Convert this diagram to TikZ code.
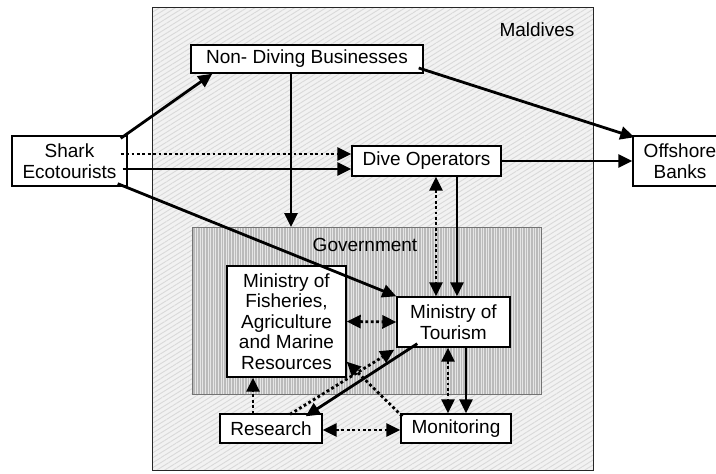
\documentclass[tikz,border=0pt]{standalone}
\usepackage{fontspec}
\setmainfont{Liberation Sans}
\usetikzlibrary{arrows.meta,calc,patterns.meta}
\begin{document}
\begin{tikzpicture}[x=1pt,y=-1pt,
  font=\fontsize{19}{20.5}\selectfont,
  box/.style={draw=black,line width=1.4pt,fill=white,inner sep=0pt,align=center},
  arr/.style={line width=2.8pt,-{Triangle[length=14pt,width=13pt]}},
  darr/.style={line width=2.8pt,dash pattern=on 2.8pt off 2.6pt,-{Triangle[length=14pt,width=13pt]}},
  ddarr/.style={line width=2.8pt,dash pattern=on 2.8pt off 2.6pt,{Triangle[length=14pt,width=13pt]}-{Triangle[length=14pt,width=13pt]}}]
\useasboundingbox (0,0) rectangle (716,474);
\begin{scope}
\clip (0,0) rectangle (716,474);
% Maldives region
\node[draw=black!85,line width=1.4pt,inner sep=0pt,anchor=north west,
  minimum width=441pt,minimum height=463pt,
  preaction={fill=black!5},
  pattern={Lines[angle=32,distance=4.2pt,line width=0.9pt]},pattern color=black!15]
  (mal) at (152,7) {};
\node (mallbl) at (537,30) {Maldives};
% Government region
\node[draw=black!55,line width=1.5pt,inner sep=0pt,anchor=north west,
  minimum width=349pt,minimum height=167pt,
  preaction={fill=black!27},
  pattern={Lines[angle=90,distance=2.6pt,line width=1pt]},pattern color=black!10]
  (gov) at (192,227) {};
\node (govlbl) at (365,245) {Government};
% boxes
\node[box,minimum width=232pt,minimum height=28pt] (ndb) at (307,59) {Non- Diving Businesses};
\node[box,minimum width=115pt,minimum height=50pt] (shark) at (69.5,161) {Shark\\Ecotourists};
\node[box,minimum width=149pt,minimum height=30pt] (dive) at (426.5,161) {Dive Operators};
\node[box,minimum width=94pt,minimum height=50pt] (ofs) at (680,161) {Offshore\\Banks};
\node[box,minimum width=119pt,minimum height=111pt] (fis) at (286.5,321.5) {Ministry of\\Fisheries,\\Agriculture\\and Marine\\Resources};
\node[box,minimum width=113pt,minimum height=50pt] (mot) at (453.5,322) {Ministry of\\Tourism};
\node[box,minimum width=102pt,minimum height=29pt] (res) at (271,428.5) {Research};
\node[box,minimum width=110pt,minimum height=29pt] (mon) at (456,428.5) {Monitoring};
% helper coordinates
\coordinate (ndbd) at ($(ndb.south)+(-16,0)$);
\coordinate (dived) at ($(dive.south)+(9.5,0)$);
\coordinate (dives) at ($(dive.south)+(30.5,0)$);
\coordinate (resf) at ($(res.north)+(-18,0)$);
\coordinate (motd) at ($(mot.south)+(-5.5,0)$);
\coordinate (mots) at ($(mot.south)+(12.5,0)$);
% connectors
\draw[arr] ($(shark.north east)+(-7,3)$) -- ($(ndb.south west)+(22,0)$);
\draw[darr] ($(shark.east)+(-7,-7)$) -- ($(dive.west)+(0,-7)$);
\draw[arr] ($(shark.east)+(-5,8)$) -- ($(dive.west)+(0,8)$);
\draw[arr] ($(shark.south east)+(-10,-3)$) -- (mot.north west);
\draw[arr] (ndbd) -- (ndbd |- gov.north);
\draw[arr] ($(ndb.east)+(-5,9)$) -- ($(ofs.north west)+(2,2)$);
\draw[arr] (dive.east) -- (ofs.west);
\draw[ddarr] (dived) -- (dived |- mot.north);
\draw[arr] (dives) -- (dives |- mot.north);
\draw[ddarr] (fis.east) -- (mot.west);
\draw[darr] (resf) -- (resf |- fis.south);
\draw[ddarr] ($(res.east)+(0,1.5)$) -- ($(mon.west)+(0,1.5)$);
\draw[ddarr] (motd) -- (motd |- mon.north);
\draw[arr] (mots) -- (mots |- mon.north);
\draw[arr] ($(mot.south west)+(21,-4)$) -- ($(res.north east)+(-17,3)$);
\draw[darr] ($(res.north)+(19,1)$) -- ($(mot.south west)+(-2,2)$);
\draw[darr] ($(mon.north west)+(2,3)$) -- ($(fis.south east)+(0,-16)$);
\end{scope}
\end{tikzpicture}
\end{document}
